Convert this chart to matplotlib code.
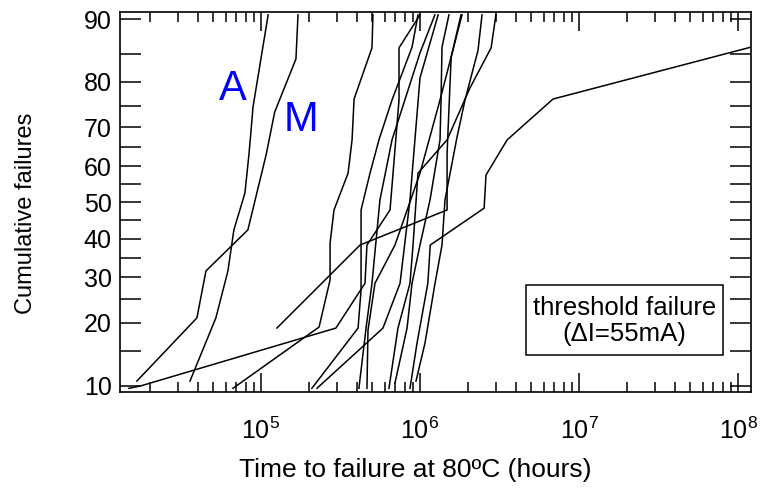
import math
import numpy as np
import matplotlib
matplotlib.use('Agg')
import matplotlib.pyplot as plt
from matplotlib.ticker import FixedLocator, NullFormatter, LogLocator

plt.rcParams['font.family'] = ['Liberation Sans', 'DejaVu Sans']
plt.rcParams['mathtext.default'] = 'regular'

# failure curves: time (hours) and cumulative failures (%)
a_x = [3.58e4, 5.21e4, 6.20e4, 6.76e4, 7.93e4, 8.41e4, 8.78e4, 8.91e4, 1.11e5]
a_y = [10.6, 21.0, 31.6, 42.4, 52.6, 63.2, 71.8, 74.7, 90.5]
b_x = [1.66e4, 3.96e4, 4.51e4, 8.28e4, 1.08e5, 1.22e5, 1.66e5, 1.71e5]
b_y = [10.6, 21.0, 31.6, 42.4, 63.2, 73.6, 84.2, 90.5]
c_x = [1.48e4, 1.76e4, 2.96e5, 4.51e5, 4.64e5, 6.48e5, 7.38e5, 7.38e5, 1.0e6]
c_y = [9.7, 10.0, 19.0, 28.6, 38.3, 47.9, 76.3, 86.0, 90.5]
d_x = [1.26e5, 4.20e5, 1.48e6, 1.48e6, 1.57e6, 1.81e6]
d_y = [19.0, 38.3, 47.9, 63.5, 84.5, 90.5]
e_x = [6.67e4, 2.32e5, 2.72e5, 2.72e5, 2.88e5, 3.53e5, 3.74e5, 3.85e5, 4.99e5, 5.06e5]
e_y = [9.7, 19.2, 29.4, 38.8, 47.9, 58.1, 66.9, 76.5, 86.0, 90.5]
g_x = [2.09e5, 4.08e5, 4.26e5, 4.26e5, 4.85e5, 5.52e5, 6.67e5, 8.91e5, 9.71e5]
g_y = [9.7, 19.0, 27.0, 47.9, 58.1, 66.9, 76.3, 86.1, 90.5]
h_x = [2.25e5, 5.85e5, 7.49e5, 8.65e5, 1.0e6, 1.30e6]
h_y = [9.7, 19.0, 28.6, 50.7, 80.8, 90.5]
i_x = [4.13e5, 4.58e5, 4.99e5, 5.60e5, 6.67e5, 1.0e6, 1.24e6]
i_y = [9.7, 19.0, 28.6, 50.7, 66.9, 85.2, 90.5]
j_x = [4.64e5, 4.71e5, 5.21e5, 6.96e5, 1.0e6, 1.336e6, 1.837e6]
j_y = [9.7, 18.6, 28.6, 38.3, 58.1, 76.3, 90.5]
k_x = [6.38e5, 7.27e5, 8.65e5, 9.04e5, 9.71e5, 1.48e6, 2.06e6, 2.80e6, 3.0e6]
k_y = [9.7, 19.0, 28.6, 38.3, 58.1, 66.9, 78.8, 86.0, 90.5]
l_x = [6.96e5, 8.29e5, 8.91e5, 1.0e6, 1.156e6, 1.336e6, 1.356e6, 1.375e6, 1.52e6]
l_y = [10.35, 19.0, 28.6, 38.3, 50.7, 66.9, 76.3, 86.1, 90.5]
m_x = [9.44e5, 1.075e6, 1.243e6, 1.375e6, 1.436e6, 1.709e6, 1.919e6, 2.316e6, 2.454e6]
m_y = [10.6, 16.3, 28.6, 38.3, 50.7, 67.6, 76.3, 85.6, 90.5]
long_x = [8.65e5, 9.58e5, 1.12e6, 1.16e6, 2.53e6, 2.60e6, 3.53e6, 6.86e6, 1.2e8]
long_y = [9.7, 16.3, 28.6, 38.3, 48.4, 57.6, 66.9, 76.5, 86.1]

curves = [(a_x, a_y), (b_x, b_y), (c_x, c_y), (d_x, d_y), (e_x, e_y),
          (g_x, g_y), (h_x, h_y), (i_x, i_y), (j_x, j_y), (k_x, k_y),
          (l_x, l_y), (m_x, m_y), (long_x, long_y)]

major_pct = [10, 20, 30, 40, 50, 60, 70, 80, 90]
minor_pct = [15, 25, 35, 45, 55, 65, 75, 85]

# normal probability scale (probit)
_z = np.linspace(-7, 7, 40001)
_p = 0.5 * (1 + np.array([math.erf(v / math.sqrt(2)) for v in _z]))


def probit(y):
    y = np.asarray(y, dtype=float)
    return np.interp(y / 100.0, _p, _z)


def inv_probit(z):
    z = np.asarray(z, dtype=float)
    return 100.0 * np.interp(z, _z, _p)


fig = plt.figure(figsize=(7.6, 4.9), dpi=100)
ax = fig.add_axes([120 / 760, 1 - 391.7 / 490, 631.3 / 760, 379.4 / 490])

for xs, ys in curves:
    ax.plot(xs, ys, color='black', lw=1.1)

ax.set_xscale('log')
ax.set_yscale('function', functions=(probit, inv_probit))
ax.set_xlim(1.3e4, 1.21e8)
ax.set_ylim(9.3, 90.8)

ax.yaxis.set_major_locator(FixedLocator(major_pct))
ax.yaxis.set_minor_locator(FixedLocator(minor_pct))
ax.yaxis.set_minor_formatter(NullFormatter())
ax.set_yticklabels([str(v) for v in major_pct])
ax.xaxis.set_major_locator(LogLocator(base=10, numticks=10))
ax.xaxis.set_minor_locator(LogLocator(base=10, subs=np.arange(2, 10), numticks=100))
ax.xaxis.set_minor_formatter(NullFormatter())

ax.tick_params(axis='y', which='both', direction='in', length=15, width=1.1,
               left=True, right=True, labelsize=18, pad=6)
ax.tick_params(axis='x', which='major', direction='in', length=14, width=1.1,
               top=True, bottom=True, labelsize=18, pad=19)
ax.tick_params(axis='x', which='minor', direction='in', length=7, width=1.1,
               top=True, bottom=True)
for s in ax.spines.values():
    s.set_linewidth(1.2)

fig.text(415 / 760, 1 - 470 / 490, 'Time to failure at 80\u00baC (hours)',
         ha='center', va='center', fontsize=19)
fig.text(26 / 760, 1 - 213 / 490, 'Cumulative failures', rotation=90,
         ha='center', va='center', fontsize=17)

ax.text(0.1791, 0.7689, 'A', color='#0000ff', fontsize=30, ha='center',
        va='baseline', transform=ax.transAxes)
ax.text(0.2864, 0.6861, 'M', color='#0000ff', fontsize=30, ha='center',
        va='baseline', transform=ax.transAxes)

ax.add_patch(plt.Rectangle((0.643, 0.0967), 0.312, 0.1845, transform=ax.transAxes,
                           fill=False, edgecolor='black', lw=1.1))
ax.text(0.799, 0.186, 'threshold failure\n(\u0394I=55mA)', ha='center', va='center',
        multialignment='center', fontsize=18.5, linespacing=1.1, transform=ax.transAxes)

fig.savefig('out.png', dpi=100)
